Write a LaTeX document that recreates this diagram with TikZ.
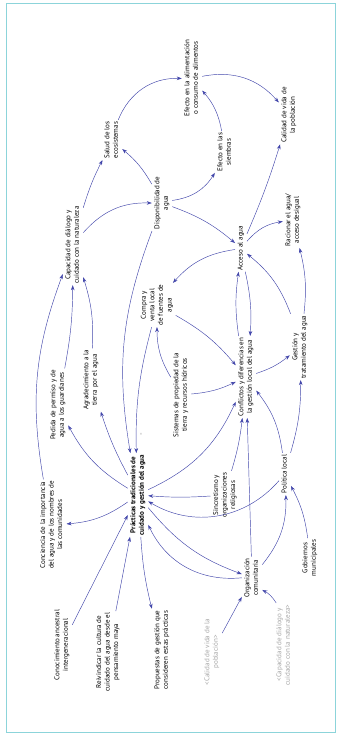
\documentclass[tikz,border=0pt]{standalone}
\usepackage{fontspec}
\setmainfont{PT Sans}
\usepackage{graphicx}
\usetikzlibrary{arrows.meta}
\definecolor{linkblue}{RGB}{66,70,170}
\definecolor{frameteal}{RGB}{140,212,218}
\definecolor{shadowgrey}{RGB}{165,165,165}
\newcommand{\vlab}[1]{\rotatebox{90}{\begin{tabular}{@{}c@{}}#1\end{tabular}}}

\begin{document}
\begin{tikzpicture}[x=0.035cm,y=0.035cm,
  var/.style={inner sep=1.5pt, font=\fontsize{7}{8.5}\selectfont},
  core/.style={var, font=\fontsize{7}{8.5}\selectfont\bfseries},
  shadow/.style={var, text=shadowgrey},
  arr/.style={-{Stealth[length=5pt,width=3.6pt]}, linkblue, line width=0.45pt}
]
\useasboundingbox (0,0) rectangle (337,740);
\draw[frameteal, line width=1.4pt] (6.5,7.5) rectangle (335.5,736.5);

% variables
\node[var] (alim) at (192,662) {\vlab{Efecto en la alimentación\\o consumo de alimentos}};
\node[var] (calidad) at (289,625) {\vlab{Calidad de vida de\\la población}};
\node[var] (salud) at (112,600) {\vlab{Salud de los\\ecosistemas}};
\node[var] (siembras) at (225,588) {\vlab{Efecto en las\\siembras}};
\node[var] (dispo) at (162,537) {\vlab{Disponibilidad de\\agua}};
\node[var] (dialogo) at (73,495) {\vlab{Capacidad de diálogo y\\cuidado con la naturaleza}};
\node[var] (acceso) at (241,492) {\vlab{Acceso al agua}};
\node[var] (racionar) at (293,520) {\vlab{Racionar el agua/\\acceso desigual}};
\node[var] (compra) at (157,435) {\vlab{Compra y\\venta local\\de fuentes de\\agua}};
\node[var] (tierra) at (181,345) {\vlab{Sistemas de propiedad de la\\tierra y recursos hídricos}};
\node[var] (conflictos) at (246,363) {\vlab{Conflictos y diferencias en\\la gestión local del agua}};
\node[var] (gestion) at (300,393) {\vlab{Gestión y\\tratamiento del agua}};
\node[var] (permiso) at (58,335) {\vlab{Pedida de permiso y de\\agua a los guardianes}};
\node[var] (agradec) at (91,360) {\vlab{Agradecimiento a la\\tierra por el agua}};
\node[core] (practicas) at (138,245) {\vlab{Prácticas tradicionales de\\cuidado y gestión del agua}};
\node[var] (conciencia) at (52,215) {\vlab{Conciencia de la importancia\\del agua y de los nombres de\\las comunidades}};
\node[var] (sincretismo) at (225,245) {\vlab{Sincretismo y\\organizaciones\\religiosas}};
\node[var] (politica) at (285,266) {\vlab{Política local}};
\node[var] (gobiernos) at (310,182) {\vlab{Gobiernos\\municipales}};
\node[var] (organiz) at (252,162) {\vlab{Organización\\comunitaria}};
\node[var] (ancestral) at (62,95) {\vlab{Conocimiento ancestral\\intergeneracional}};
\node[var] (reivind) at (108,88) {\vlab{Reivindicar la cultura de\\cuidado del agua desde el\\pensamiento maya}};
\node[var] (propuestas) at (162,90) {\vlab{Propuestas de gestión que\\consideren estas prácticas}};
\node[shadow] (sombracalidad) at (212,88) {\vlab{<Calidad de vida de la\\población>}};
\node[shadow] (sombradialogo) at (284,95) {\vlab{<Capacidad de diálogo y\\cuidado con la naturaleza>}};
\node[var, text=gray] (signo) at (142,306) {\rotatebox{90}{-}};

% links, top part
\draw[arr] (salud) to[bend left=35] (alim);
\draw[arr] (alim) to[bend left=30] (calidad);
\draw[arr] (siembras) to[bend right=15] (alim);
\draw[arr] (dispo) to[bend right=25] (siembras);
\draw[arr] (dispo) to[bend right=10] (salud);
\draw[arr] (dialogo) to[bend left=5] (salud);
\draw[arr] (dialogo) to[bend left=25] (dispo);
\draw[arr] (dispo) to[bend left=10] (acceso);
\draw[arr] (acceso) to[bend right=3] (calidad);
\draw[arr] (acceso) to[bend left=20] (racionar);
\draw[arr] (acceso) to[bend right=20] (compra);
\draw[arr] (acceso) to[bend left=8] (conflictos);
\draw[arr] (conflictos) to[bend left=8] (acceso);
\draw[arr] (gestion) to[bend right=15] (acceso);
\draw[arr] (gestion) to[bend right=10] (racionar);
% links, middle part
\draw[arr] (compra) to[bend left=10] (conflictos);
\draw[arr] (tierra) to[bend left=15] (compra);
\draw[arr] (tierra) to[bend right=10] (conflictos);
\draw[arr] (conflictos) to[bend right=10] (gestion);
\draw[arr] (dispo) to[bend right=15] (practicas);
\draw[arr] (compra) to[bend right=8] (practicas);
\draw[arr] (agradec) to[bend right=10] (dialogo);
\draw[arr] (permiso) to[bend right=5] (dialogo);
\draw[arr] (conciencia) to[bend left=15] (dialogo);
\draw[arr] (practicas) to[bend left=15] (permiso);
\draw[arr] (practicas) to[bend left=5] (agradec);
\draw[arr] (practicas) to[bend right=20] (conflictos);
\draw[arr] (sincretismo) to[bend right=5] (conflictos);
\draw[arr] (sincretismo) to[bend left=4] (practicas);
\draw[arr] (organiz) to (conflictos);
\draw[arr] (politica) to[bend right=15] (conflictos);
\draw[arr] (politica) to[bend right=8] (gestion);
% links, bottom part
\draw[arr] (politica) to[bend left=40] (practicas);
\draw[arr] (practicas) to[bend right=15] (organiz);
\draw[arr] (organiz) to[bend left=35] (practicas);
\draw[arr] (organiz) to[bend right=20] (politica);
\draw[arr] (gobiernos) to[bend right=10] (politica);
\draw[arr] (practicas) to[bend left=15] (conciencia);
\draw[arr] (ancestral) to (practicas);
\draw[arr] (reivind) to (practicas);
\draw[arr] (practicas) to[bend right=5] (propuestas);
\draw[arr] (sombracalidad) to (organiz);
\draw[arr] (sombradialogo) to[bend right=15] (organiz);
\end{tikzpicture}
\end{document}
